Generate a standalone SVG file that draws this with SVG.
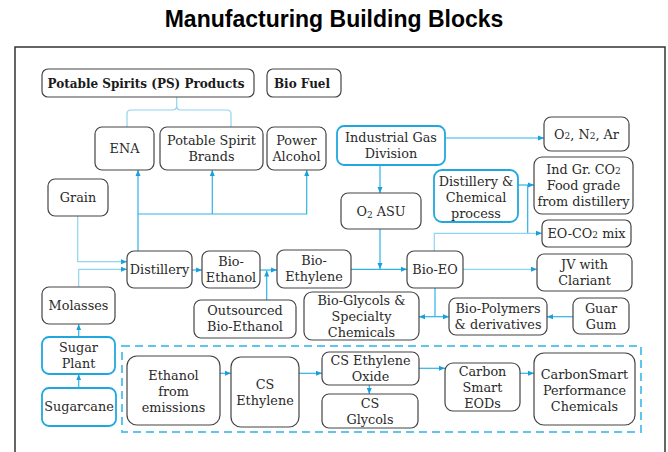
<svg xmlns="http://www.w3.org/2000/svg" width="668" height="452" viewBox="0 0 668 452">
<style>
.n{fill:#fff;stroke:#444;stroke-width:1.2}
.b{fill:#fff;stroke:#1fa8e0;stroke-width:1.8}
.t{font-family:"DejaVu Serif",serif;font-size:12.8px;fill:#2a2a2a;text-anchor:middle}
.bt{font-family:"DejaVu Serif",serif;font-size:12px;font-weight:bold;fill:#1a1a1a;text-anchor:middle}
.c{fill:none;stroke:#2db3e8;stroke-width:1.2}
.l{fill:none;stroke:#8fd4f0;stroke-width:1.2}
.a{marker-end:url(#ah)}
.s{font-size:9px}
</style>
<defs>
<marker id="ah" viewBox="0 0 6 6" refX="6" refY="3" markerWidth="6" markerHeight="6" markerUnits="userSpaceOnUse" orient="auto">
<path d="M0,0.5 L6,3 L0,5.5 Z" fill="#1a9fdc"/>
</marker>
</defs>
<rect width="668" height="452" fill="#fff"/>
<text x="334" y="27" font-family="Liberation Sans,Arial,sans-serif" font-size="23" font-weight="bold" text-anchor="middle" fill="#000">Manufacturing Building Blocks</text>
<rect x="15" y="47" width="650" height="420" fill="none" stroke="#333" stroke-width="1.5"/>
<rect x="122" y="346" width="519" height="86" fill="none" stroke="#5cc6ef" stroke-width="2" stroke-dasharray="8 5"/>

<g id="connectors">
<path class="l" d="M176.7,97 V106 q0,4 -4,4 H131 q-4,0 -4,4 V127 M176.7,106 q0,4 4,4 H227 q4,0 4,4 V127"/>
<path class="c a" d="M138,251 V170"/>
<path class="c a" d="M138,214 H306.7 V170"/>
<path class="c a" d="M212.3,214 V170"/>
<path class="l a" d="M77.7,216 V261.7 H127"/>
<path class="l a" d="M78.7,287 V269.3 H127"/>
<path class="c a" d="M78.7,337 V324.3"/>
<path class="c a" d="M78.7,388 V374.3"/>
<path class="c a" d="M192,270 H202"/>
<path class="c a" d="M260,270 H277"/>
<path class="c a" d="M266.7,300 V270.5"/>
<path class="c a" d="M351,269.3 H407"/>
<path class="c a" d="M380,229 V269"/>
<path class="c a" d="M380,165 V193"/>
<path class="c a" d="M445,138 H544"/>
<path class="c a" d="M518,185 H534"/>
<path class="c" d="M527.7,185 V233.3"/>
<path class="l a" d="M434.3,251 V233.3 H542"/>
<path class="l a" d="M463,269.3 H537"/>
<path class="c" d="M435,288 V316.7"/>
<path class="c a" d="M435,316.7 H419"/>
<path class="c a" d="M435,316.7 H449"/>
<path class="c a" d="M573,316.7 H547"/>
<path class="c a" d="M220,373.3 H231"/>
<path class="c a" d="M299,373.3 H322"/>
<path class="c a" d="M369.3,385 V394"/>
<path class="c a" d="M419,368.3 H445"/>
<path class="c a" d="M520,373.3 H534"/>
</g>

<g id="ps-products"><rect class="n" x="42" y="69" width="212" height="28" rx="6"/><text class="bt" x="146" y="87.5">Potable Spirits (PS) Products</text></g>
<g id="bio-fuel"><rect class="n" x="267" y="69" width="74" height="28" rx="6"/><text class="bt" x="302" y="87.5">Bio Fuel</text></g>
<g id="ena"><rect class="n" x="95" y="127" width="59" height="43" rx="7"/><text class="t" x="124.5" y="153">ENA</text></g>
<g id="potable-spirit-brands"><rect class="n" x="160" y="127" width="103" height="43" rx="7"/><text class="t" x="211.5" y="145">Potable Spirit</text><text class="t" x="211.5" y="161">Brands</text></g>
<g id="power-alcohol"><rect class="n" x="267" y="127" width="59" height="43" rx="7"/><text class="t" x="296.5" y="145">Power</text><text class="t" x="296.5" y="161">Alcohol</text></g>
<g id="industrial-gas"><rect class="b" x="337" y="126" width="108" height="39" rx="7"/><text class="t" x="391" y="142">Industrial Gas</text><text class="t" x="391" y="158">Division</text></g>
<g id="o2n2ar"><rect class="n" x="544" y="117" width="85" height="34" rx="7"/><text class="t" x="586.5" y="138.5">O<tspan class="s">2</tspan>, N<tspan class="s">2</tspan>, Ar</text></g>
<g id="ind-gr-co2"><rect class="n" x="534" y="157" width="99" height="57" rx="8"/><text class="t" x="583.5" y="174">Ind Gr. CO<tspan class="s">2</tspan></text><text class="t" x="583.5" y="190">Food grade</text><text class="t" x="583.5" y="206">from distillery</text></g>
<g id="distillery-chemical"><rect class="b" x="434" y="170" width="84" height="52" rx="8"/><text class="t" x="476" y="186">Distillery &amp;</text><text class="t" x="476" y="202">Chemical</text><text class="t" x="476" y="218">process</text></g>
<g id="o2-asu"><rect class="n" x="341" y="193" width="80" height="36" rx="7"/><text class="t" x="381" y="215.5">O<tspan class="s" dy="2">2</tspan><tspan dy="-2"> ASU</tspan></text></g>
<g id="eo-co2-mix"><rect class="n" x="542" y="220" width="89" height="27" rx="6"/><text class="t" x="586.5" y="238">EO-CO<tspan class="s">2</tspan> mix</text></g>
<g id="grain"><rect class="n" x="48" y="179" width="60" height="37" rx="7"/><text class="t" x="78" y="202">Grain</text></g>
<g id="distillery"><rect class="n" x="127" y="251" width="65" height="37" rx="7"/><text class="t" x="159.5" y="274">Distillery</text></g>
<g id="molasses"><rect class="n" x="42" y="287" width="73" height="37" rx="7"/><text class="t" x="78.5" y="310">Molasses</text></g>
<g id="sugar-plant"><rect class="b" x="42" y="337" width="73" height="37" rx="7"/><text class="t" x="78.5" y="352">Sugar</text><text class="t" x="78.5" y="368">Plant</text></g>
<g id="sugarcane"><rect class="b" x="42" y="388" width="74" height="38" rx="7"/><text class="t" x="79" y="411">Sugarcane</text></g>
<g id="bio-ethanol"><rect class="n" x="202" y="251" width="58" height="37" rx="7"/><text class="t" x="231" y="266">Bio-</text><text class="t" x="231" y="282">Ethanol</text></g>
<g id="bio-ethylene"><rect class="n" x="277" y="250" width="74" height="38" rx="7"/><text class="t" x="314" y="265">Bio-</text><text class="t" x="314" y="281">Ethylene</text></g>
<g id="outsourced"><rect class="n" x="194" y="300" width="102" height="38" rx="7"/><text class="t" x="245" y="315">Outsourced</text><text class="t" x="245" y="331">Bio-Ethanol</text></g>
<g id="bio-glycols"><rect class="n" x="304" y="292" width="115" height="48" rx="8"/><text class="t" x="361.5" y="305">Bio-Glycols &amp;</text><text class="t" x="361.5" y="321">Specialty</text><text class="t" x="361.5" y="337">Chemicals</text></g>
<g id="bio-eo"><rect class="n" x="407" y="251" width="56" height="37" rx="7"/><text class="t" x="435" y="274">Bio-EO</text></g>
<g id="jv-clariant"><rect class="n" x="537" y="254" width="95" height="37" rx="7"/><text class="t" x="584.5" y="269">JV with</text><text class="t" x="584.5" y="285">Clariant</text></g>
<g id="bio-polymers"><rect class="n" x="449" y="298" width="98" height="37" rx="7"/><text class="t" x="498" y="313">Bio-Polymers</text><text class="t" x="498" y="329">&amp; derivatives</text></g>
<g id="guar-gum"><rect class="n" x="573" y="298" width="56" height="36" rx="7"/><text class="t" x="601" y="313">Guar</text><text class="t" x="601" y="329">Gum</text></g>
<g id="ethanol-emissions"><rect class="n" x="127" y="356" width="93" height="69" rx="10"/><text class="t" x="173.5" y="380">Ethanol</text><text class="t" x="173.5" y="396">from</text><text class="t" x="173.5" y="412">emissions</text></g>
<g id="cs-ethylene"><rect class="n" x="231" y="357" width="68" height="70" rx="10"/><text class="t" x="265" y="389">CS</text><text class="t" x="265" y="405">Ethylene</text></g>
<g id="cs-eo"><rect class="n" x="322" y="352" width="97" height="33" rx="7"/><text class="t" x="370.5" y="365">CS Ethylene</text><text class="t" x="370.5" y="381">Oxide</text></g>
<g id="cs-glycols"><rect class="n" x="322" y="394" width="96" height="34" rx="7"/><text class="t" x="370" y="408">CS</text><text class="t" x="370" y="424">Glycols</text></g>
<g id="cs-eods"><rect class="n" x="445" y="363" width="75" height="48" rx="8"/><text class="t" x="482.5" y="376">Carbon</text><text class="t" x="482.5" y="392">Smart</text><text class="t" x="482.5" y="408">EODs</text></g>
<g id="cs-performance"><rect class="n" x="534" y="353" width="101" height="72" rx="10"/><text class="t" x="584.5" y="379">CarbonSmart</text><text class="t" x="584.5" y="395">Performance</text><text class="t" x="584.5" y="411">Chemicals</text></g>
</svg>
